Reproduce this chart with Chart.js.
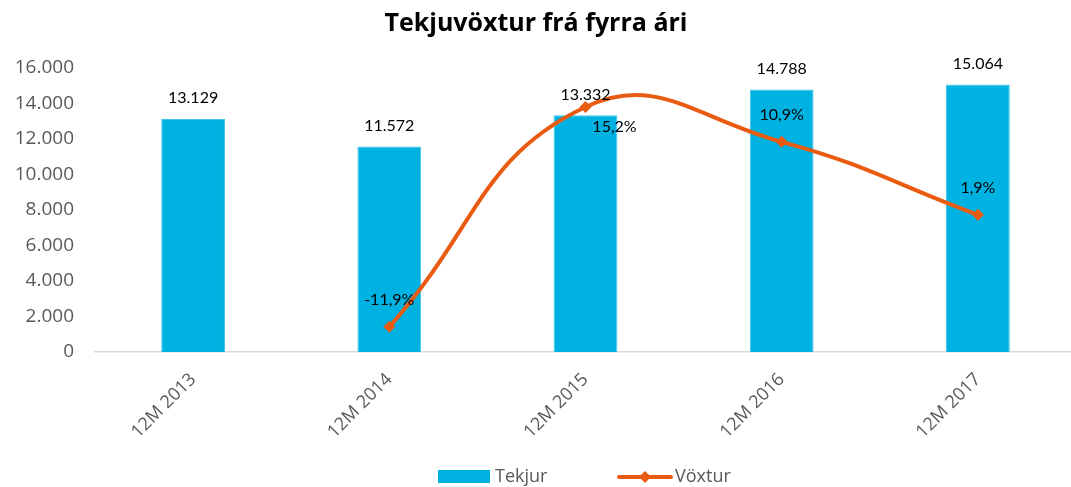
<!DOCTYPE html>
<html>
<head>
<meta charset="utf-8">
<script src="https://cdn.jsdelivr.net/npm/chart.js@4/dist/chart.umd.min.js"></script>
<style>
  html, body { margin: 0; padding: 0; background: #fff; overflow: hidden; }
  #wrap { position: relative; width: 1082px; height: 487px; }
</style>
</head>
<body>
<div id="wrap"><canvas id="chart"></canvas></div>
<script>
const categories = ['12M 2013', '12M 2014', '12M 2015', '12M 2016', '12M 2017'];
const revenue = [13129, 11572, 13332, 14788, 15064];
const growth = [null, -11.9, 15.2, 10.9, 1.9];
const yTicks = [0, 2000, 4000, 6000, 8000, 10000, 12000, 14000, 16000];

// where each growth label sits relative to its point
const growthLabelOffsets = [null, [0, -27], [29, 20], [0, -27], [0, -27]];

const BLUE = '#00B2E1';
const ORANGE = '#E85B10';
const GRAY = '#595959';

function fmtThousands(v) {
  return String(Math.round(v)).replace(/\B(?=(\d{3})+(?!\d))/g, '.');
}
function fmtPct(v) {
  return v.toFixed(1).replace('.', ',') + '%';
}

const labelsPlugin = {
  id: 'labelsPlugin',
  afterDatasetsDraw(chart) {
    const ctx = chart.ctx;
    ctx.save();
    ctx.font = '16px Lato';
    ctx.fillStyle = '#000';
    ctx.textAlign = 'center';
    ctx.textBaseline = 'middle';
    chart.getDatasetMeta(1).data.forEach((el, i) => {
      ctx.fillText(fmtThousands(revenue[i]), el.x, el.y - 21);
    });
    chart.getDatasetMeta(0).data.forEach((el, i) => {
      if (growth[i] === null) return;
      const off = growthLabelOffsets[i];
      ctx.fillText(fmtPct(growth[i]), el.x + off[0], el.y + off[1]);
    });
    ctx.restore();
  },
  afterDraw(chart) {
    const ctx = chart.ctx;
    ctx.save();
    // title
    ctx.font = 'bold 25px "Open Sans"';
    ctx.fillStyle = '#000';
    ctx.textAlign = 'center';
    ctx.textBaseline = 'middle';
    ctx.fillText('Tekjuvöxtur frá fyrra ári', 536, 24);
    // legend
    const ly = 477;
    ctx.fillStyle = BLUE;
    ctx.fillRect(438, 470, 52, 13);
    ctx.font = '18px "Open Sans"';
    ctx.fillStyle = GRAY;
    ctx.textAlign = 'left';
    ctx.fillText('Tekjur', 495, ly);
    ctx.strokeStyle = ORANGE;
    ctx.lineWidth = 4;
    ctx.lineCap = 'round';
    ctx.beginPath();
    ctx.moveTo(619, ly);
    ctx.lineTo(671, ly);
    ctx.stroke();
    ctx.fillStyle = ORANGE;
    ctx.beginPath();
    ctx.moveTo(645, ly - 6);
    ctx.lineTo(651, ly);
    ctx.lineTo(645, ly + 6);
    ctx.lineTo(639, ly);
    ctx.closePath();
    ctx.fill();
    ctx.fillStyle = GRAY;
    ctx.fillText('Vöxtur', 675, ly);
    ctx.restore();
  }
};

function draw() {
  new Chart(document.getElementById('chart'), {
    type: 'bar',
    data: {
      labels: categories,
      datasets: [
        {
          type: 'line',
          label: 'Vöxtur',
          data: growth,
          yAxisID: 'y1',
          borderColor: ORANGE,
          backgroundColor: ORANGE,
          borderWidth: 4,
          tension: 0.45,
          pointStyle: 'rectRot',
          pointRadius: 6,
          pointBorderWidth: 0,
          pointBackgroundColor: ORANGE,
          order: 0,
        },
        {
          type: 'bar',
          label: 'Tekjur',
          data: revenue,
          yAxisID: 'y',
          backgroundColor: BLUE,
          borderColor: '#3DC3E8',
          borderWidth: 1,
          categoryPercentage: 1,
          barPercentage: 0.325,
          order: 1,
        },
      ],
    },
    options: {
      responsive: true,
      maintainAspectRatio: false,
      animation: false,
      layout: { padding: { top: 68, bottom: 45, left: 0, right: 0 } },
      plugins: {
        legend: { display: false },
        title: { display: false },
        tooltip: { enabled: false },
      },
      scales: {
        x: {
          offset: true,
          grid: { display: false, drawTicks: false },
          border: { display: true, color: '#D9D9D9', width: 1.5 },
          ticks: {
            color: GRAY,
            font: { family: '"Open Sans"', size: 18 },
            minRotation: 45,
            maxRotation: 45,
            padding: 17,
          },
          afterFit(scale) { scale.height = 90; },
        },
        y: {
          min: 0,
          max: 16000,
          grid: { display: false, drawTicks: false },
          border: { display: false },
          afterBuildTicks(scale) { scale.ticks = yTicks.map(v => ({ value: v })); },
          ticks: {
            color: GRAY,
            font: { family: '"Open Sans"', size: 19 },
            padding: 21,
            callback: v => fmtThousands(v),
          },
          afterFit(scale) { scale.width = 95; },
        },
        y1: {
          display: false,
          min: -15,
          max: 20,
        },
      },
    },
    plugins: [labelsPlugin],
  });
}

Promise.all([
  document.fonts.load('18px "Open Sans"'),
  document.fonts.load('bold 25px "Open Sans"'),
  document.fonts.load('16px Lato'),
]).then(draw, draw);
</script>
</body>
</html>
